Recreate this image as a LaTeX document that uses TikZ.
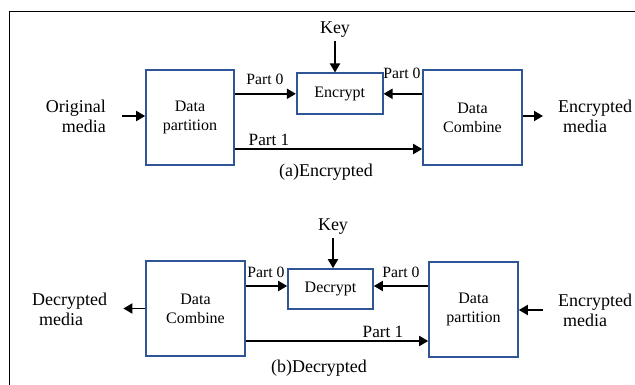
\documentclass[tikz,border=0pt]{standalone}
\usepackage{fontspec}
\setmainfont{Liberation Serif}
\usetikzlibrary{arrows.meta}

\definecolor{boxblue}{RGB}{47,85,151}
\tikzset{
	blk/.style={draw=boxblue, line width=1.6pt, align=center, inner sep=0pt, font=\fontsize{16}{19}\selectfont},
	arr/.style={-{Triangle[length=9pt,width=10pt]}, line width=1.8pt},
	lbl/.style={inner sep=0pt, font=\fontsize{18}{20}\selectfont},
	prt/.style={inner sep=0pt, font=\fontsize{15.7}{17}\selectfont},
	prtone/.style={inner sep=0pt, font=\fontsize{17.2}{18}\selectfont}
}

\begin{document}
\begin{tikzpicture}[x=1pt,y=-1pt]
	\useasboundingbox (0,0) rectangle (635,385);
	\draw[line width=0.8pt] (9,385) -- (9,11) -- (635,11);

	% encryption
	\node[blk, minimum width=88, minimum height=95] (dpa) at (190,117.5) {Data\\partition};
	\node[blk, minimum width=86, minimum height=41] (enc) at (339.7,93.8) {Encrypt};
	\node[blk, minimum width=99, minimum height=95] (dca) at (472.5,117.5) {Data\\Combine};

	\node[lbl, anchor=east, align=right] (orig) at (106,116) {Original\\media};
	\node[lbl, anchor=west, align=left] (encma) at (558,116) {Encrypted\\\hspace*{5pt}media};
	\node[lbl] (keya) at (335,30) {Key};

	\draw[arr, shorten <=16pt] (orig.east) -- (dpa.west |- orig.east);
	\draw[arr, shorten >=15pt] (dca.east |- encma.west) -- (encma.west);
	\draw[arr] ([yshift=-3pt]keya.south) -- (keya.south |- enc.north);
	\draw[arr] (dpa.east |- enc.west) -- (enc.west);
	\draw[arr] (dca.west |- enc.east) -- (enc.east);
	\coordinate (p1a) at ([yshift=-31.5pt]dpa.east);
	\draw[arr] (p1a) -- (p1a -| dca.west);

	\node[prt] (p0al) at (265,79) {Part 0};
	\node[prt] (p0ar) at (402,73) {Part 0};
	\node[prtone] (p1al) at (269,140) {Part 1};
	\node[lbl] (capa) at (326,172) {(a)Encrypted};

	% decryption
	\node[blk, minimum width=99, minimum height=95] (dcb) at (195.5,308.5) {Data\\Combine};
	\node[blk, minimum width=85, minimum height=40] (dec) at (330.5,289) {Decrypt};
	\node[blk, minimum width=89, minimum height=95] (dpb) at (473.5,309.5) {Data\\partition};

	\node[lbl, anchor=west, align=left] (decm) at (32,309) {Decrypted\\\hspace*{7pt}media};
	\node[lbl, anchor=west, align=left] (encmb) at (558,310) {Encrypted\\\hspace*{5pt}media};
	\node[lbl] (keyb) at (333,227) {Key};

	\draw[arr, shorten >=16pt] (dcb.west) -- (dcb.west -| decm.east);
	\draw[arr, shorten <=15pt] (encmb.west) -- (dpb.east |- encmb.west);
	\draw[arr] ([yshift=-3pt]keyb.south) -- (keyb.south |- dec.north);
	\coordinate (d0l) at ([yshift=3pt]dec.west);
	\coordinate (d0r) at ([yshift=3pt]dec.east);
	\draw[arr] (dcb.east |- d0l) -- (d0l);
	\draw[arr] (dpb.west |- d0r) -- (d0r);
	\coordinate (p1b) at ([yshift=-32.5pt]dcb.east);
	\draw[arr] (p1b) -- (p1b -| dpb.west);

	\node[prt] (p0bl) at (266,272) {Part 0};
	\node[prt] (p0br) at (401,272) {Part 0};
	\node[prtone] (p1bl) at (383,332) {Part 1};
	\node[lbl] (capb) at (319,368) {(b)Decrypted};
\end{tikzpicture}
\end{document}
